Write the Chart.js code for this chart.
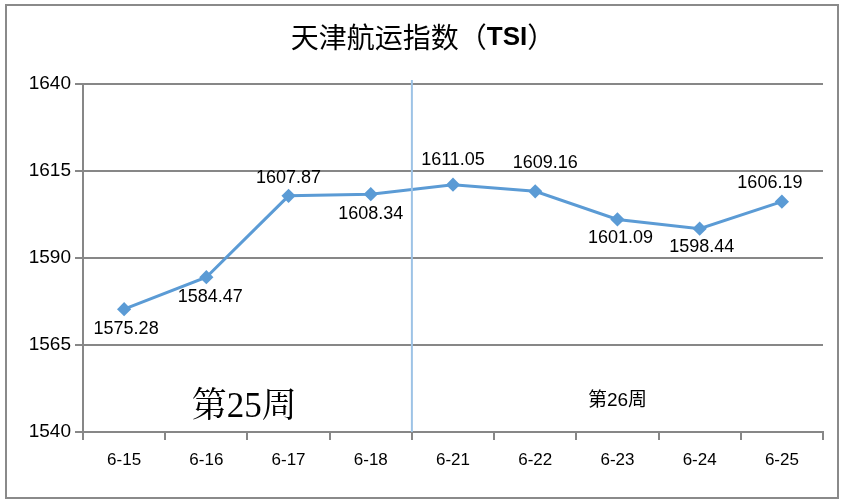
<!DOCTYPE html>
<html><head><meta charset="utf-8">
<script src="https://cdn.jsdelivr.net/npm/chart.js@4/dist/chart.umd.min.js"></script>
<style>html,body{margin:0;padding:0;background:#fff}#wrap{width:844px;height:504px;position:relative}</style>
</head><body><div id="wrap"><canvas id="c" width="844" height="504"></canvas></div>
<script>
const titleText = "天津航运指数（";
const titleBold = "TSI";
const titleEnd = "）";
const categories = ["6-15","6-16","6-17","6-18","6-21","6-22","6-23","6-24","6-25"];
const tsiValues = [1575.28,1584.47,1607.87,1608.34,1611.05,1609.16,1601.09,1598.44,1606.19];
const yTicks = [1540,1565,1590,1615,1640];
const weekLabels = ["第25周","第26周"];

const labelOffsets = [[2,20],[4,20],[0,-18],[0,20],[0,-25],[10,-28],[3,19],[2,18],[-12,-19]];

const decor = {
  id:'decor',
  beforeDraw(chart){
    const ctx = chart.ctx;
    ctx.save();
    ctx.fillStyle='#fff';ctx.fillRect(0,0,chart.width,chart.height);
    ctx.strokeStyle='#8a8a8a';ctx.lineWidth=2;
    ctx.strokeRect(6,5,832,493);
    ctx.restore();
  },
  afterDatasetsDraw(chart){
    const ctx = chart.ctx, x = chart.scales.x, y = chart.scales.y, ca = chart.chartArea;
    ctx.save();
    const xd = (x.getPixelForValue(3)+x.getPixelForValue(4))/2;
    ctx.strokeStyle='#9dc3e6';ctx.lineWidth=2;
    ctx.beginPath();ctx.moveTo(xd,ca.top-4);ctx.lineTo(xd,ca.bottom);ctx.stroke();
    ctx.fillStyle='#000';ctx.font='18px "Liberation Sans", Arial, sans-serif';
    ctx.textAlign='center';ctx.textBaseline='middle';
    const meta = chart.getDatasetMeta(0);
    meta.data.forEach((p,i)=>{
      const o = labelOffsets[i];
      ctx.fillText(tsiValues[i].toFixed(2), p.x+o[0], p.y+o[1]);
    });
    ctx.font='35px "Liberation Serif", "Noto Serif CJK SC", serif';
    ctx.fillText(weekLabels[0], x.getPixelForValue(1.46), y.getPixelForValue(1547));
    ctx.font='19px "Liberation Sans", "Noto Sans CJK SC", sans-serif';
    ctx.fillText(weekLabels[1], x.getPixelForValue(6.0), y.getPixelForValue(1549));
    ctx.textBaseline='middle';ctx.textAlign='left';
    const cjk='28px "Noto Sans CJK SC", sans-serif', bold='bold 26px "Liberation Sans", sans-serif';
    ctx.font=cjk; const w1 = ctx.measureText(titleText).width;
    ctx.font=bold; const w2 = ctx.measureText(titleBold).width;
    ctx.font=cjk; const w3 = ctx.measureText(titleEnd).width;
    let sx = 423-(w1+w2+w3)/2, ty = 37;
    ctx.font=cjk; ctx.fillText(titleText, sx, ty);
    ctx.font=bold; ctx.fillText(titleBold, sx+w1, ty+1);
    ctx.font=cjk; ctx.fillText(titleEnd, sx+w1+w2, ty);
    ctx.restore();
  }
};

new Chart(document.getElementById('c'),{
  type:'line',
  data:{labels:categories,datasets:[{
    data:tsiValues,borderColor:'#5b9bd5',borderWidth:3,
    pointStyle:'rectRot',pointRadius:5,pointBackgroundColor:'#5b9bd5',pointBorderColor:'#5b9bd5',
    tension:0
  }]},
  options:{
    responsive:false,animation:false,devicePixelRatio:1,
    layout:{padding:{left:0,right:21,top:84,bottom:0}},
    plugins:{legend:{display:false},tooltip:{enabled:false},title:{display:false}},
    scales:{
      x:{offset:true,
        grid:{offset:true,drawOnChartArea:false,drawTicks:true,tickLength:8,color:'#878787',lineWidth:2},
        border:{display:true,color:'#878787',width:2},
        ticks:{color:'#000',font:{family:'"Liberation Sans", Arial',size:17},padding:10,maxRotation:0},
        afterFit(s){s.height=72;}
      },
      y:{min:1540,max:1640,
        afterBuildTicks(s){s.ticks=yTicks.map(v=>({value:v}));},
        grid:{color:'#878787',lineWidth:2,tickLength:8},
        border:{display:true,color:'#878787',width:2},
        ticks:{color:'#000',font:{family:'"Liberation Sans", Arial',size:19},padding:4,callback:v=>String(v)},
        afterFit(s){s.width=83;}
      }
    }
  },
  plugins:[decor]
});
</script></body></html>
